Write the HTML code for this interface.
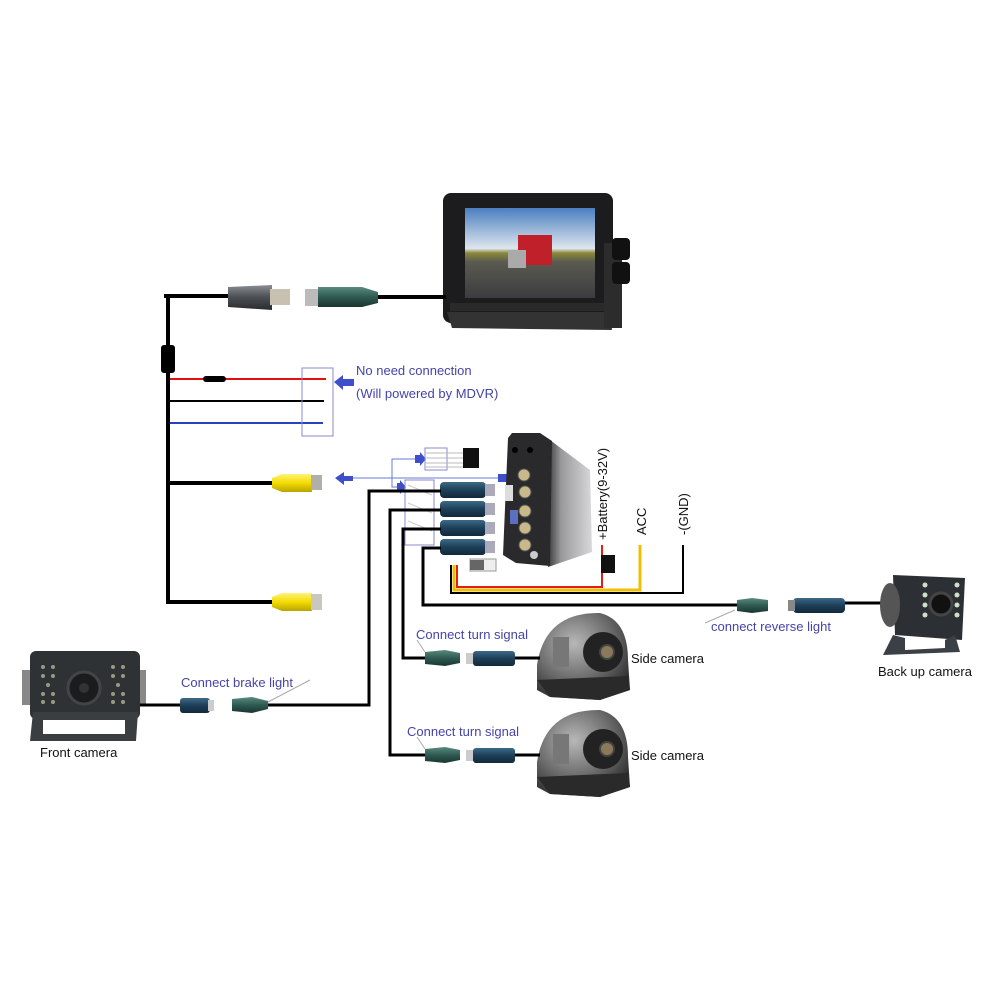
<!DOCTYPE html>
<html><head><meta charset="utf-8"><style>
html,body{margin:0;padding:0;background:#fff;}
svg{display:block}
text{font-family:"Liberation Sans",sans-serif;}
</style></head><body>
<svg width="1000" height="1000" viewBox="0 0 1000 1000" xmlns="http://www.w3.org/2000/svg">
<defs>
<linearGradient id="sky" x1="0" y1="0" x2="0" y2="1"><stop offset="0" stop-color="#4a7fc0"/><stop offset="0.45" stop-color="#dfe6ee"/><stop offset="0.5" stop-color="#8a8a3a"/><stop offset="0.6" stop-color="#5a5a50"/><stop offset="1" stop-color="#3c3c40"/></linearGradient>
<linearGradient id="blu" x1="0" y1="0" x2="0" y2="1"><stop offset="0" stop-color="#3d6a88"/><stop offset="0.5" stop-color="#1d3f58"/><stop offset="1" stop-color="#12283a"/></linearGradient>
<linearGradient id="gry" x1="0" y1="0" x2="0" y2="1"><stop offset="0" stop-color="#8a8e92"/><stop offset="0.5" stop-color="#4a4e52"/><stop offset="1" stop-color="#2a2c2e"/></linearGradient>
<linearGradient id="grn" x1="0" y1="0" x2="0" y2="1"><stop offset="0" stop-color="#5a8a80"/><stop offset="0.5" stop-color="#2e5a52"/><stop offset="1" stop-color="#1a3530"/></linearGradient>
<linearGradient id="yel" x1="0" y1="0" x2="0" y2="1"><stop offset="0" stop-color="#fff27a"/><stop offset="0.5" stop-color="#f2dc00"/><stop offset="1" stop-color="#b8a400"/></linearGradient>
<linearGradient id="side" x1="0" y1="0" x2="1" y2="0"><stop offset="0" stop-color="#3a3a3c"/><stop offset="0.3" stop-color="#9a9a9c"/><stop offset="1" stop-color="#d8d8da"/></linearGradient>
<radialGradient id="dome" cx="0.4" cy="0.35" r="0.7"><stop offset="0" stop-color="#b8b8b8"/><stop offset="0.6" stop-color="#6a6a6a"/><stop offset="1" stop-color="#2e2e2e"/></radialGradient>
</defs>

<!-- Monitor -->
<rect x="443" y="193" width="170" height="130" rx="8" fill="#1c1c1e"/>
<rect x="465" y="208" width="130" height="90" fill="url(#sky)"/>
<rect x="518" y="235" width="34" height="30" fill="#c0202a"/>
<rect x="508" y="250" width="18" height="18" fill="#aaa"/>
<rect x="450" y="303" width="156" height="8" fill="#2a2a2a"/>
<path d="M447 312 L610 312 L612 330 L452 328 Z" fill="#333"/>
<rect x="604" y="243" width="18" height="85" fill="#2c2c2c"/>
<rect x="612" y="238" width="18" height="22" rx="4" fill="#111"/>
<rect x="612" y="262" width="18" height="22" rx="4" fill="#111"/>

<!-- Monitor cable and connectors -->
<line x1="375" y1="297" x2="446" y2="297" stroke="#000" stroke-width="4"/>
<rect x="305" y="289" width="18" height="17" fill="#bbb"/>
<path d="M318 287 L362 287 L378 292 L378 303 L362 307 L318 307 Z" fill="url(#grn)"/>
<path d="M228 287 L272 285 L272 310 L228 307 Z" fill="url(#gry)"/>
<rect x="270" y="289" width="20" height="16" fill="#c8c0b0"/>
<path d="M166 298 L166 296 L228 296" stroke="#000" stroke-width="4" fill="none"/>
<line x1="168" y1="294" x2="168" y2="604" stroke="#000" stroke-width="4"/>
<rect x="161" y="345" width="14" height="28" rx="3" fill="#000"/>

<!-- Red/black/blue wires -->
<line x1="170" y1="379" x2="326" y2="379" stroke="#e01010" stroke-width="2"/>
<rect x="203" y="376" width="23" height="6" rx="3" fill="#000"/>
<line x1="170" y1="401" x2="324" y2="401" stroke="#000" stroke-width="2"/>
<line x1="170" y1="423" x2="323" y2="423" stroke="#2b3fc0" stroke-width="2"/>
<rect x="302" y="368" width="31" height="68" fill="none" stroke="#8888cc" stroke-width="1"/>
<path d="M334 382 L343 375 L343 379 L354 379 L354 386 L343 386 L343 390 Z" fill="#3f4fcc"/>
<text x="356" y="375" font-size="13" fill="#4444aa">No need connection</text>
<text x="356" y="398" font-size="13" fill="#4444aa">(Will powered by MDVR)</text>

<!-- Yellow RCA -->
<line x1="168" y1="483" x2="275" y2="483" stroke="#000" stroke-width="4"/>
<path d="M272 478 L282 474 L312 474 L312 492 L282 492 L272 488 Z" fill="url(#yel)"/>
<rect x="311" y="475" width="11" height="15" fill="#b0b0a8"/>
<line x1="168" y1="602" x2="275" y2="602" stroke="#000" stroke-width="4"/>
<path d="M272 597 L282 593 L312 593 L312 611 L282 611 L272 607 Z" fill="url(#yel)"/>
<rect x="311" y="594" width="11" height="16" fill="#c8c8c0"/>

<!-- blue link lines -->
<path d="M335 478 L344 472 L344 476 L353 476 L353 481 L344 481 L344 485 Z" fill="#3f4fcc"/>
<line x1="353" y1="478" x2="500" y2="478" stroke="#6a78d8" stroke-width="1"/>
<path d="M498 474 L508 474 L508 470 L516 478 L508 486 L508 482 L498 482 Z" fill="#3f4fcc"/>
<path d="M392 478 L392 459 L416 459 M392 478 L392 487 L398 487" stroke="#6a78d8" stroke-width="1" fill="none"/>
<path d="M415 455 L420 455 L420 452 L426 459 L420 466 L420 463 L415 463 Z" fill="#3f4fcc"/>
<path d="M397 483 L400 483 L400 480 L406 487 L400 494 L400 491 L397 491 Z" fill="#3f4fcc"/>
<rect x="425" y="448" width="22" height="22" fill="none" stroke="#8888cc"/>
<g stroke="#bbb" stroke-width="1"><line x1="426" y1="453" x2="464" y2="453"/><line x1="426" y1="458" x2="464" y2="458"/><line x1="426" y1="463" x2="464" y2="463"/><line x1="426" y1="467" x2="464" y2="467"/></g>
<rect x="463" y="448" width="16" height="20" fill="#111"/>
<rect x="405" y="480" width="29" height="65" fill="none" stroke="#8888cc"/>
<g stroke="#ccc" stroke-width="1"><line x1="408" y1="485" x2="432" y2="495"/><line x1="408" y1="503" x2="432" y2="513"/><line x1="408" y1="521" x2="432" y2="531"/></g>

<!-- DVR -->
<path d="M550 440 L590 470 L592 552 L548 567 Z" fill="url(#side)"/>
<path d="M508 438 L512 433 L540 433 L552 441 L550 566 L516 563 L503 555 Z" fill="#2a2a2c"/>
<g fill="#c9b98a" stroke="#555"><circle cx="525" cy="492" r="6"/><circle cx="525" cy="511" r="6"/><circle cx="525" cy="528" r="6"/><circle cx="525" cy="545" r="6"/><circle cx="524" cy="475" r="6"/></g>
<rect x="505" y="485" width="8" height="16" fill="#ddd"/>
<rect x="510" y="510" width="8" height="14" fill="#5a6fbf"/>
<circle cx="534" cy="555" r="4" fill="#ccc"/>
<circle cx="515" cy="450" r="3" fill="#000"/><circle cx="530" cy="450" r="3" fill="#000"/>

<!-- blue connectors on DVR -->
<g>
<rect x="440" y="482" width="46" height="16" rx="4" fill="url(#blu)"/><rect x="485" y="484" width="10" height="12" fill="#aab"/>
<rect x="440" y="501" width="46" height="16" rx="4" fill="url(#blu)"/><rect x="485" y="503" width="10" height="12" fill="#aab"/>
<rect x="440" y="520" width="46" height="16" rx="4" fill="url(#blu)"/><rect x="485" y="522" width="10" height="12" fill="#aab"/>
<rect x="440" y="539" width="46" height="16" rx="4" fill="url(#blu)"/><rect x="485" y="541" width="10" height="12" fill="#aab"/>
</g>
<rect x="470" y="559" width="26" height="12" fill="#eee" stroke="#999"/>
<rect x="470" y="560" width="14" height="10" fill="#666"/>

<!-- wires from connectors -->
<g stroke="#000" stroke-width="3" fill="none">
<path d="M441 491 L369 491 L369 705 L265 705"/>
<path d="M441 510 L390 510 L390 755 L425 755"/>
<path d="M441 529 L403 529 L403 658 L425 658"/>
<path d="M441 548 L423 548 L423 605 L740 605"/>
</g>

<!-- power wires -->
<path d="M451 565 L451 593 L683 593 L683 545" stroke="#000" stroke-width="2" fill="none"/>
<path d="M454 565 L454 590 L640 590 L640 545" stroke="#f0c000" stroke-width="3" fill="none"/>
<path d="M457 565 L457 587 L602 587 L602 545" stroke="#e02010" stroke-width="2" fill="none"/>
<rect x="601" y="555" width="14" height="18" fill="#111"/>
<text transform="translate(607 540) rotate(-90)" font-size="13" fill="#111">+Battery(9-32V)</text>
<text transform="translate(646 535) rotate(-90)" font-size="13" fill="#111">ACC</text>
<text transform="translate(688 535) rotate(-90)" font-size="13" fill="#111">-(GND)</text>

<!-- back camera -->
<path d="M737 600 L752 598 L768 600 L768 611 L752 613 L737 611 Z" fill="url(#grn)"/>
<rect x="793" y="598" width="52" height="15" rx="4" fill="url(#blu)"/>
<rect x="788" y="600" width="7" height="11" fill="#888"/>
<line x1="845" y1="603" x2="884" y2="603" stroke="#000" stroke-width="3"/>
<line x1="705" y1="623" x2="735" y2="610" stroke="#aaa" stroke-width="1"/>
<text x="711" y="631" font-size="13" fill="#4444aa">connect reverse light</text>
<path d="M893 575 L965 578 L962 640 L895 635 Z" fill="#2c3034"/>
<ellipse cx="890" cy="605" rx="10" ry="22" fill="#555"/>
<circle cx="941" cy="604" r="11" fill="#111" stroke="#444" stroke-width="3"/>
<g fill="#cfe0c8"><circle cx="925" cy="585" r="2.5"/><circle cx="925" cy="595" r="2.5"/><circle cx="925" cy="605" r="2.5"/><circle cx="925" cy="615" r="2.5"/><circle cx="957" cy="585" r="2.5"/><circle cx="957" cy="595" r="2.5"/><circle cx="957" cy="605" r="2.5"/><circle cx="957" cy="615" r="2.5"/></g>
<path d="M883 655 L960 652 L955 635 L945 640 L945 648 L905 650 L905 638 L893 635 Z" fill="#3a4046"/>
<text x="878" y="676" font-size="13" fill="#111">Back up camera</text>

<!-- front camera -->
<rect x="30" y="651" width="110" height="68" rx="6" fill="#2e3234"/>
<path d="M33 712 L138 712 L136 741 L30 741 Z" fill="#3a3e40"/>
<rect x="43" y="720" width="82" height="14" fill="#fff"/>
<rect x="22" y="670" width="8" height="35" fill="#888"/><rect x="140" y="670" width="6" height="35" fill="#888"/>
<circle cx="84" cy="688" r="16" fill="#1a1c1e" stroke="#444" stroke-width="3"/>
<circle cx="84" cy="688" r="5" fill="#333"/>
<g fill="#9a9a80"><circle cx="43" cy="667" r="2"/><circle cx="53" cy="667" r="2"/><circle cx="43" cy="676" r="2"/><circle cx="53" cy="676" r="2"/><circle cx="48" cy="685" r="2"/><circle cx="43" cy="694" r="2"/><circle cx="53" cy="694" r="2"/><circle cx="43" cy="702" r="2"/><circle cx="53" cy="702" r="2"/><circle cx="113" cy="667" r="2"/><circle cx="123" cy="667" r="2"/><circle cx="113" cy="676" r="2"/><circle cx="123" cy="676" r="2"/><circle cx="118" cy="685" r="2"/><circle cx="113" cy="694" r="2"/><circle cx="123" cy="694" r="2"/><circle cx="113" cy="702" r="2"/><circle cx="123" cy="702" r="2"/></g>
<line x1="140" y1="705" x2="182" y2="705" stroke="#000" stroke-width="3"/>
<rect x="180" y="698" width="30" height="15" rx="3" fill="url(#blu)"/>
<rect x="208" y="700" width="6" height="11" fill="#ccc"/>
<path d="M232 699 L252 697 L268 701 L268 709 L252 713 L232 711 Z" fill="url(#grn)"/>
<line x1="268" y1="702" x2="310" y2="680" stroke="#aaa" stroke-width="1"/>
<text x="181" y="687" font-size="13" fill="#4444aa">Connect brake light</text>
<text x="40" y="757" font-size="13" fill="#111">Front camera</text>

<!-- side cameras -->
<g id="sc">
<path d="M537 690 L537 665 Q545 612 600 613 Q628 620 628 660 L630 690 L600 700 L550 697 Z" fill="url(#dome)"/>
<circle cx="603" cy="652" r="20" fill="#222"/>
<circle cx="607" cy="652" r="7" fill="#8a7a5a" stroke="#444" stroke-width="2"/>
<rect x="553" y="637" width="16" height="30" fill="#777"/>
<path d="M537 680 L628 676 L630 690 L600 700 L550 697 Z" fill="#2a2a2a"/>
<line x1="515" y1="658" x2="540" y2="658" stroke="#000" stroke-width="3"/>
<rect x="473" y="651" width="42" height="15" rx="3" fill="url(#blu)"/>
<rect x="466" y="653" width="7" height="11" fill="#ccc"/>
<path d="M425 652 L445 650 L460 653 L460 663 L445 666 L425 664 Z" fill="url(#grn)"/>
<line x1="425" y1="652" x2="417" y2="640" stroke="#aaa" stroke-width="1"/>
<text x="631" y="663" font-size="13" fill="#111">Side camera</text>
</g>
<use href="#sc" transform="translate(0 97)"/>
<text x="416" y="639" font-size="13" fill="#4444aa">Connect turn signal</text>
<text x="407" y="736" font-size="13" fill="#4444aa">Connect turn signal</text>
</svg>
</body></html>
